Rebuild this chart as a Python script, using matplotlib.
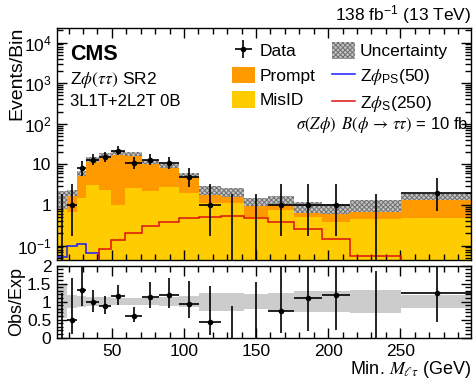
import numpy as np
import matplotlib
matplotlib.use("Agg")
import matplotlib.pyplot as plt
from matplotlib.patches import Patch
from matplotlib.lines import Line2D
from matplotlib.ticker import MultipleLocator, LogLocator, NullFormatter, FixedLocator, FixedFormatter

plt.rcParams['font.family'] = ['Liberation Sans', 'DejaVu Sans']
plt.rcParams['font.size'] = 12
plt.rcParams['mathtext.fontset'] = 'custom'
plt.rcParams['mathtext.rm'] = 'Liberation Sans'
plt.rcParams['mathtext.it'] = 'Liberation Sans:italic'
plt.rcParams['mathtext.bf'] = 'Liberation Sans:bold'
plt.rcParams['hatch.linewidth'] = 0.7

# bins of min. M(l tau) in GeV
edges = [12, 19, 25.7, 32.4, 41, 49.7, 59.3, 71, 82.5, 96.4, 110.3,
         125.4, 141.6, 158.4, 176.4, 195.4, 215.3, 250.5, 300]
# backgrounds (events / bin)
misid = [1.15, 0.68, 1.46, 3.1, 2.34, 1.0, 2.6, 2.25, 2.8, 1.94,
         1.1, 1.1, 0.5, 0.75, 0.51, 0.39, 0.44, 0.47]
prompt = [0.35, 1.32, 4.54, 10.2, 14.9, 18.1, 15.7, 9.35, 6.6, 3.36,
          1.2, 1.0, 0.7, 0.6, 0.39, 0.46, 0.56, 1.13]
unc = [0.47, 0.18, 0.15, 0.12, 0.12, 0.10, 0.10, 0.10, 0.12, 0.14,
       0.25, 0.25, 0.22, 0.25, 0.30, 0.28, 0.33, 0.17]
# observed counts and (Garwood) errors
data = [0, 1, 8, 13, 15, 22, 11, 13, 11, 5, 1, 0, 0, 1, 1, 1, 0, 2]
data_lo = [0, 0.83, 2.77, 3.56, 3.84, 4.67, 3.27, 3.56, 3.27, 2.16,
           0.83, 0, 0, 0.83, 0.83, 0.83, 0, 1.29]
data_hi = [1.84, 2.30, 3.94, 4.73, 5.00, 5.83, 4.43, 4.73, 4.43, 3.38,
           2.30, 1.84, 1.84, 2.30, 2.30, 2.30, 1.84, 2.64]
# signals
sig_ps50 = [0.052, 0.10, 0.107, 0.064, 1e-3, 1e-3, 1e-3, 1e-3, 1e-3, 1e-3,
            1e-3, 1e-3, 1e-3, 1e-3, 1e-3, 1e-3, 1e-3, 1e-3]
sig_s250 = [1e-3, 1e-3, 1e-3, 1e-3, 0.081, 0.137, 0.21, 0.31, 0.375, 0.47,
            0.505, 0.527, 0.486, 0.375, 0.256, 0.143, 0.054, 1e-3]

edges = np.array(edges)
centers = 0.5 * (edges[1:] + edges[:-1])
halfw = 0.5 * np.diff(edges)
misid = np.array(misid)
prompt = np.array(prompt)
total = misid + prompt
unc = np.array(unc)
data = np.array(data, dtype=float)
data_lo = np.array(data_lo)
data_hi = np.array(data_hi)
nz = data > 0

yellow = '#ffcc00'
orange = '#ff9900'
hatch_fc = '#c4c4c4'
hatch_ec = '#707070'

fig = plt.figure(figsize=(4.76, 3.79), dpi=100)
ax = fig.add_axes([57/476, 1-259.5/379, 414/476, (259.5-28.3)/379])
rax = fig.add_axes([57/476, 1-337.5/379, 414/476, (337.5-265.5)/379])

ymin, ymax = 0.0455, 2.25e4
ax.set_yscale('log')
ax.stairs(misid, edges, baseline=1e-3, fill=True, color=yellow, zorder=1)
ax.stairs(total, edges, baseline=misid, fill=True, color=orange, zorder=1)
ax.stairs(total*(1+unc), edges, baseline=total*(1-unc), fill=True,
          facecolor=hatch_fc, edgecolor=hatch_ec, hatch='xxxxxxx', lw=0, zorder=2)
ax.stairs(sig_ps50, edges, baseline=None, color='#1a1aff', lw=1.1, zorder=3)
ax.stairs(sig_s250, edges, baseline=None, color='#dd1111', lw=1.1, zorder=3)

h_data = ax.errorbar(centers[nz], data[nz], xerr=halfw[nz], yerr=[data_lo[nz], data_hi[nz]],
                     fmt='o', ms=3, color='k', elinewidth=1.2, capsize=0, zorder=5)
ax.vlines(centers[~nz], 1e-3, data_hi[~nz], color='k', lw=1.2, zorder=5)

xmax = 299
ax.set_xlim(12, xmax)
ax.set_ylim(ymin, ymax)
ax.yaxis.set_major_locator(FixedLocator([0.1, 1, 10, 100, 1000, 1e4]))
ax.yaxis.set_major_formatter(FixedFormatter(['$10^{-1}$', '1', '10', '$10^{2}$', '$10^{3}$', '$10^{4}$']))
ax.yaxis.set_minor_locator(LogLocator(subs=np.arange(2, 10)))
ax.yaxis.set_minor_formatter(NullFormatter())
ax.xaxis.set_major_locator(MultipleLocator(50))
ax.xaxis.set_minor_locator(MultipleLocator(10))
ax.tick_params(axis='x', labelbottom=False)

# ratio panel
ratio = data / total
rax.stairs(1+unc, edges, baseline=1-unc, fill=True, color='#cccccc', lw=0, zorder=1)
rax.errorbar(centers[nz], ratio[nz], xerr=halfw[nz],
             yerr=[data_lo[nz]/total[nz], data_hi[nz]/total[nz]],
             fmt='o', ms=3, color='k', elinewidth=1.2, capsize=0, zorder=5)
rax.vlines(centers[~nz], 0, data_hi[~nz]/total[~nz], color='k', lw=1.2, zorder=5)
rax.set_xlim(12, xmax)
rax.set_ylim(0, 2)
rax.yaxis.set_major_locator(FixedLocator([0, 0.5, 1, 1.5, 2]))
rax.yaxis.set_major_formatter(FixedFormatter(['0', '0.5', '1', '1.5', '2']))
rax.yaxis.set_minor_locator(MultipleLocator(0.1))
rax.xaxis.set_major_locator(MultipleLocator(50))
rax.xaxis.set_minor_locator(MultipleLocator(10))

for a in (ax, rax):
    a.tick_params(which='both', direction='in', top=True, right=True, width=1,
                  labelsize=12.5)
    a.tick_params(which='major', length=7, pad=4)
    a.tick_params(which='minor', length=4)
    for s in a.spines.values():
        s.set_linewidth(1.0)
rax.tick_params(axis='x', pad=5)

# legend
handles = [h_data,
           Patch(facecolor=orange, edgecolor='none'),
           Patch(facecolor=yellow, edgecolor='none'),
           Patch(facecolor=hatch_fc, edgecolor=hatch_ec, hatch='xxxxxxx', lw=0),
           Line2D([], [], color='#1a1aff', lw=1.1),
           Line2D([], [], color='#dd1111', lw=1.1)]
labels = ['Data', 'Prompt', 'MisID', 'Uncertainty',
          r'Z$\phi_{\mathregular{PS}}$(50)', r'Z$\phi_{\mathregular{S}}$(250)']
leg = fig.legend(handles, labels, ncol=2, loc='upper left',
                 bbox_to_anchor=(232/476, 1-42/379), frameon=False, fontsize=12.5,
                 handlelength=1.3, handleheight=1.1, handletextpad=0.3,
                 columnspacing=0.95, labelspacing=0.42, borderpad=0, borderaxespad=0)
for t in leg.get_texts():
    t.set_math_fontfamily('stix')

fig.text(70/476, 1-54.5/379, 'CMS', weight='bold', size=15.5, va='center')
fig.text(70/476, 1-80/379, r'Z$\phi(\tau\tau)$ SR2', va='center', size=12.5,
         math_fontfamily='stix')
fig.text(70/476, 1-102/379, '3L1T+2L2T 0B', va='center')
fig.text(468/476, 1-125/379, r'$\sigma(Z\phi)\;\;B(\phi \,\rightarrow\, \tau\tau)$ = 10 fb',
         ha='right', va='center', size=12, math_fontfamily='stix')
fig.text(471/476, 1-15/379, r'138 fb$^{-1}$ (13 TeV)', ha='right', va='center', size=12.5)
fig.text(17/476, 1-27/379, 'Events/Bin', rotation=90, ha='center', va='top', size=14)
fig.text(17/476, 1-301/379, 'Obs/Exp', rotation=90, ha='center', va='center', size=13)
fig.text(471/476, 1-369.5/379, r'Min. $M_{\ell\tau}$ (GeV)', ha='right', va='center',
         size=13, math_fontfamily='stix')

fig.savefig('out.png', dpi=100)
